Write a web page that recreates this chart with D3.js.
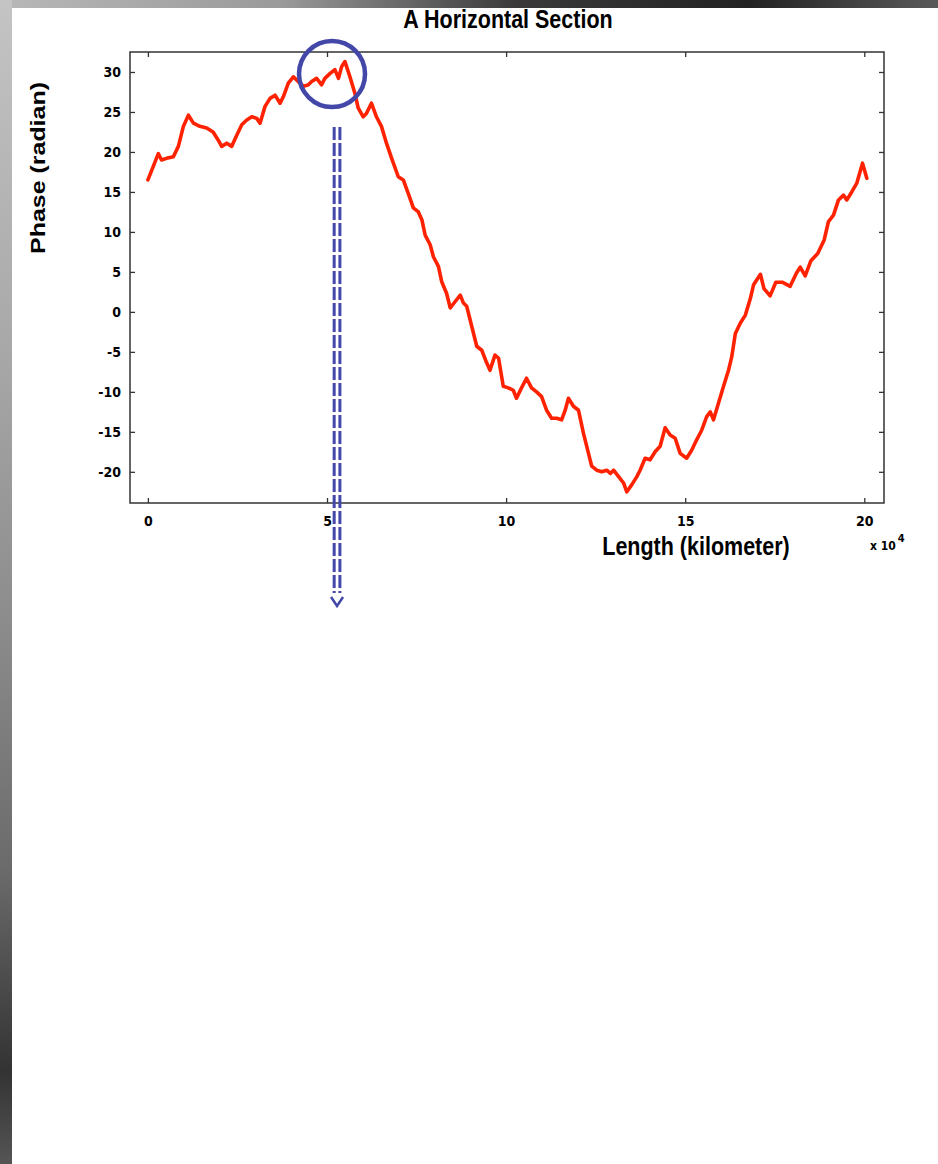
<!DOCTYPE html>
<html>
<head>
<meta charset="utf-8">
<script src="https://cdn.jsdelivr.net/npm/d3@7"></script>
<style>
  html, body { margin: 0; padding: 0; background: #fff; }
  svg { display: block; }
  .tick text { font-family: "DejaVu Sans Condensed", "Liberation Sans Narrow", sans-serif; font-weight: bold; font-size: 14px; fill: #000; }
  .tick line { stroke: #333; stroke-width: 1.3; }
</style>
</head>
<body>
<div id="chart"></div>
<script>
// phase along the section, length in units of 10^4 km
var length_km = [0.0, 0.15, 0.29, 0.38, 0.52, 0.71, 0.85, 0.99, 1.13, 1.27, 1.45, 1.64, 1.82, 1.96, 2.06, 2.2, 2.34, 2.48, 2.62, 2.76,
  2.9, 3.04, 3.13, 3.27, 3.41, 3.55, 3.69, 3.78, 3.92, 4.06, 4.2, 4.34, 4.48, 4.57, 4.71, 4.85, 4.94, 5.08, 5.22, 5.32,
  5.41, 5.5, 5.64, 5.78, 5.87, 6.01, 6.1, 6.24, 6.38, 6.52, 6.66, 6.82, 6.99, 7.13, 7.27, 7.41, 7.55, 7.65, 7.74, 7.88,
  7.97, 8.11, 8.2, 8.34, 8.44, 8.58, 8.72, 8.81, 8.9, 9.04, 9.18, 9.32, 9.46, 9.55, 9.69, 9.79, 9.92, 10.06, 10.2, 10.29,
  10.43, 10.57, 10.71, 10.85, 10.99, 11.13, 11.27, 11.41, 11.55, 11.65, 11.74, 11.88, 12.02, 12.16, 12.3, 12.39, 12.53, 12.67, 12.81, 12.91,
  13.0, 13.14, 13.28, 13.37, 13.51, 13.65, 13.74, 13.88, 14.02, 14.16, 14.3, 14.44, 14.58, 14.72, 14.86, 15.04, 15.18, 15.32, 15.46, 15.6,
  15.7, 15.79, 15.93, 16.07, 16.21, 16.3, 16.4, 16.54, 16.68, 16.82, 16.91, 17.1, 17.2, 17.37, 17.53, 17.72, 17.93, 18.1, 18.21, 18.35,
  18.51, 18.7, 18.88, 19.0, 19.14, 19.28, 19.42, 19.51, 19.65, 19.79, 19.95, 20.07];
var phase = [16.5, 18.2, 19.8, 19.0, 19.2, 19.4, 20.7, 23.2, 24.6, 23.6, 23.2, 23.0, 22.5, 21.5, 20.7, 21.1, 20.7, 22.1, 23.4, 24.0,
  24.4, 24.2, 23.6, 25.7, 26.7, 27.1, 26.1, 26.9, 28.6, 29.4, 28.8, 28.2, 28.4, 28.8, 29.2, 28.4, 29.2, 29.8, 30.3, 29.2,
  30.7, 31.3, 29.4, 27.3, 25.5, 24.4, 24.8, 26.1, 24.4, 23.2, 21.1, 19.0, 16.9, 16.5, 14.8, 13.0, 12.5, 11.5, 9.6, 8.4,
  6.9, 5.7, 3.8, 2.3, 0.5, 1.3, 2.1, 1.1, 0.7, -1.8, -4.3, -4.8, -6.4, -7.3, -5.4, -5.8, -9.3, -9.5, -9.8, -10.8,
  -9.5, -8.3, -9.5, -10.0, -10.6, -12.3, -13.3, -13.3, -13.5, -12.3, -10.8, -11.8, -12.3, -15.2, -17.7, -19.3, -19.8, -20.0, -19.8, -20.2,
  -19.8, -20.6, -21.4, -22.5, -21.6, -20.6, -19.8, -18.3, -18.5, -17.5, -16.8, -14.5, -15.4, -15.8, -17.7, -18.3, -17.3, -16.0, -14.8, -13.1,
  -12.5, -13.5, -11.4, -9.3, -7.3, -5.6, -2.7, -1.4, -0.4, 1.7, 3.4, 4.7, 2.9, 2.0, 3.7, 3.7, 3.2, 4.8, 5.6, 4.5,
  6.4, 7.3, 9.0, 11.3, 12.1, 14.0, 14.6, 14.0, 15.0, 16.1, 18.6, 16.7];

var x_ticks = [0, 5, 10, 15, 20];
var y_ticks = [30, 25, 20, 15, 10, 5, 0, -5, -10, -15, -20];

// highlighted peak (data units) and marker lines below it
var peak_mark = [5.14, 29.75];
var marker_x = [5.2, 5.36];

var width = 938;
var height = 1164;
var box = { left: 130, right: 884, top: 52, bottom: 503 };
var narrow = '"Liberation Sans", Arial, sans-serif';

var svg = d3.select('#chart')
  .append('svg')
  .attr('width', width)
  .attr('height', height);

// grey textured border strips (top + left)
var defs = svg.append('defs');
var gTop = defs.append('linearGradient').attr('id', 'gtop');
[['0%', '#b8b8b8'], ['30%', '#9a9a9a'], ['55%', '#3a3a3a'], ['80%', '#222'], ['100%', '#5a5a5a']].forEach(function(s) {
  gTop.append('stop').attr('offset', s[0]).attr('stop-color', s[1]);
});
var gLeft = defs.append('linearGradient').attr('id', 'gleft')
  .attr('x1', 0).attr('y1', 0).attr('x2', 0).attr('y2', 1);
[['0%', '#c4c4c4'], ['30%', '#a8a8a8'], ['55%', '#8a8a8a'], ['75%', '#6a6a6a'], ['92%', '#333'], ['100%', '#555']].forEach(function(s) {
  gLeft.append('stop').attr('offset', s[0]).attr('stop-color', s[1]);
});
svg.append('rect').attr('x', 0).attr('y', 0).attr('width', width).attr('height', 8).attr('fill', 'url(#gtop)');
svg.append('rect').attr('x', 0).attr('y', 0).attr('width', 12).attr('height', height).attr('fill', 'url(#gleft)');

// scales
var x_scale = d3.scaleLinear().domain([-0.5, 20.55]).range([box.left, box.right]);
var y_scale = d3.scaleLinear().domain([-23.9, 32.5]).range([box.bottom, box.top]);

// plain hyphen for negatives, like the original
var fmt = function(d) { return String(d); };

// axes, matlab style: inward ticks on all four sides
svg.append('g')
  .attr('transform', 'translate(0,' + box.bottom + ')')
  .call(d3.axisBottom(x_scale).tickValues(x_ticks).tickSize(-5).tickPadding(13).tickFormat(fmt))
  .call(function(g) { g.select('.domain').remove(); });
svg.append('g')
  .attr('transform', 'translate(0,' + box.top + ')')
  .call(d3.axisTop(x_scale).tickValues(x_ticks).tickSize(-5).tickFormat(''))
  .call(function(g) { g.select('.domain').remove(); });
svg.append('g')
  .attr('transform', 'translate(' + box.left + ',0)')
  .call(d3.axisLeft(y_scale).tickValues(y_ticks).tickSize(-5).tickPadding(9).tickFormat(fmt))
  .call(function(g) { g.select('.domain').remove(); });
svg.append('g')
  .attr('transform', 'translate(' + box.right + ',0)')
  .call(d3.axisRight(y_scale).tickValues(y_ticks).tickSize(-5).tickFormat(''))
  .call(function(g) { g.select('.domain').remove(); });

// frame
svg.append('rect')
  .attr('x', box.left).attr('y', box.top)
  .attr('width', box.right - box.left).attr('height', box.bottom - box.top)
  .attr('fill', 'none').attr('stroke', '#333').attr('stroke-width', 1.5);

// the phase curve
var line = d3.line()
  .x(function(d, i) { return x_scale(length_km[i]); })
  .y(function(d) { return y_scale(d); });
svg.append('path')
  .datum(phase)
  .attr('d', line)
  .attr('fill', 'none')
  .attr('stroke', '#ff2200')
  .attr('stroke-width', 3.6)
  .attr('stroke-linejoin', 'round')
  .attr('stroke-linecap', 'round');

// titles (condensed look via horizontal squeeze)
svg.append('text')
  .text('A Horizontal Section')
  .attr('transform', 'translate(508,28) scale(0.86,1)')
  .attr('text-anchor', 'middle')
  .attr('font-family', narrow)
  .attr('font-weight', 'bold').attr('font-size', 25);
svg.append('text')
  .text('Phase (radian)')
  .attr('transform', 'translate(45,168) rotate(-90)')
  .attr('text-anchor', 'middle')
  .attr('textLength', 172)
  .attr('lengthAdjust', 'spacingAndGlyphs')
  .attr('font-family', '"Liberation Sans", Arial, sans-serif')
  .attr('font-weight', 'bold').attr('font-size', 21);
svg.append('text')
  .text('Length (kilometer)')
  .attr('transform', 'translate(696,555) scale(0.86,1)')
  .attr('text-anchor', 'middle')
  .attr('font-family', narrow)
  .attr('font-weight', 'bold').attr('font-size', 25);
var mult = svg.append('text')
  .attr('x', 870).attr('y', 550)
  .attr('font-family', '"DejaVu Sans Condensed", sans-serif')
  .attr('font-weight', 'bold').attr('font-size', 12);
mult.append('tspan').text('x 10');
mult.append('tspan').text('4').attr('dx', 2).attr('dy', -8).attr('font-size', 11);

// annotation: circle round the peak + dashed double arrow down
var blue = '#4347a8';
svg.append('circle')
  .attr('cx', x_scale(peak_mark[0])).attr('cy', y_scale(peak_mark[1]))
  .attr('r', 33)
  .attr('fill', 'none').attr('stroke', blue).attr('stroke-width', 4.5);

svg.selectAll('.marker')
  .data(marker_x)
  .enter()
  .append('line')
  .attr('class', 'marker')
  .attr('x1', function(d) { return x_scale(d); })
  .attr('x2', function(d) { return x_scale(d); })
  .attr('y1', 127).attr('y2', 593)
  .attr('stroke', blue).attr('stroke-width', 3)
  .attr('stroke-dasharray', '13,3');

var mid = (x_scale(marker_x[0]) + x_scale(marker_x[1])) / 2;
svg.append('path')
  .attr('d', 'M' + (mid - 6) + ',597 L' + mid + ',606 L' + (mid + 6) + ',597')
  .attr('fill', 'none').attr('stroke', blue).attr('stroke-width', 2.5);
</script>
</body>
</html>
